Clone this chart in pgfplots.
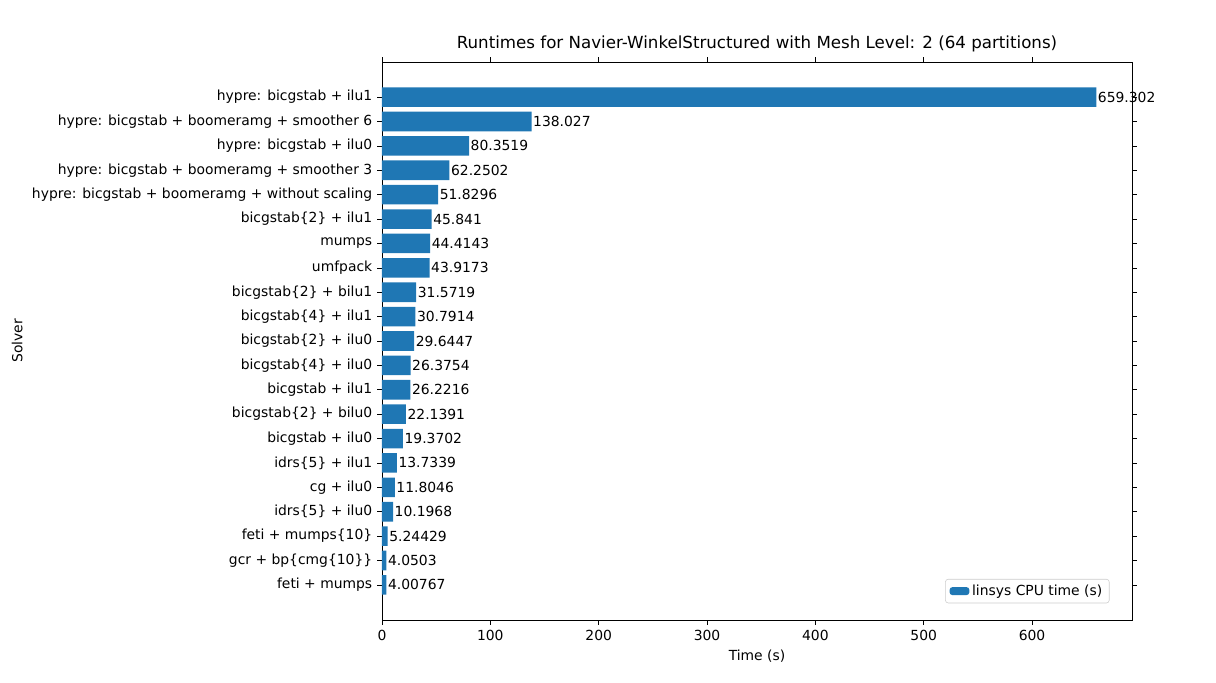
\documentclass[border=0pt]{standalone}
\usepackage{pgfplots}
\pgfplotsset{compat=1.18}
\usepackage{fontspec}
\setmainfont{DejaVu Sans}
\definecolor{mplblue}{HTML}{1F77B4}
\begin{document}
\begin{tikzpicture}
\path (-275.04pt,-45.36pt) rectangle (600.48pt,446.4pt);
\begin{axis}[
  at={(0,0)}, anchor=south west,
  scale only axis, width=540pt, height=401.76pt,
  xbar, bar width=14.1pt, bar shift=0pt,
  xmin=0, xmax=692.27, ymin=-1.44, ymax=21.44,
  ytick={0,...,20},
  yticklabels={feti + mumps, gcr + bp\{cmg\{10\}\}, feti + mumps\{10\}, idrs\{5\} + ilu0, cg + ilu0, idrs\{5\} + ilu1, bicgstab + ilu0, bicgstab\{2\} + bilu0, bicgstab + ilu1, bicgstab\{4\} + ilu0, bicgstab\{2\} + ilu0, bicgstab\{4\} + ilu1, bicgstab\{2\} + bilu1, umfpack, mumps, bicgstab\{2\} + ilu1, hypre: bicgstab + boomeramg + without scaling, hypre: bicgstab + boomeramg + smoother 3, hypre: bicgstab + ilu0, hypre: bicgstab + boomeramg + smoother 6, hypre: bicgstab + ilu1},
  xtick={0,100,...,600},
  /pgf/number format/assume math mode=true,
  tick label style={font=\fontsize{10}{12}\selectfont},
  tick align=outside, tick style={black, thin},
  major tick length=3.5pt,
  xlabel={Time (s)}, ylabel={Solver},
  label style={font=\fontsize{10}{12}\selectfont},
  title={Runtimes for Navier-WinkelStructured with Mesh Level: 2 (64 partitions)},
  title style={font=\fontsize{12}{14}\selectfont, yshift=-2pt},
  legend pos=south east,
  legend style={font=\fontsize{10}{12}\selectfont, draw=black!20, rounded corners=2pt},
  legend image code/.code={\fill[mplblue] (0cm,-0.1cm) rectangle (0.5cm,0.1cm);},
  nodes near coords, point meta=explicit symbolic,
  every node near coord/.append style={font=\fontsize{10}{12}\selectfont, anchor=west, inner sep=1pt},
]
\addplot[fill=mplblue, draw=none] table[x=x, y=y, meta=l] {
x y l
4.00767 0 4.00767
4.0503 1 4.0503
5.24429 2 5.24429
10.1968 3 10.1968
11.8046 4 11.8046
13.7339 5 13.7339
19.3702 6 19.3702
22.1391 7 22.1391
26.2216 8 26.2216
26.3754 9 26.3754
29.6447 10 29.6447
30.7914 11 30.7914
31.5719 12 31.5719
43.9173 13 43.9173
44.4143 14 44.4143
45.841 15 45.841
51.8296 16 51.8296
62.2502 17 62.2502
80.3519 18 80.3519
138.027 19 138.027
659.302 20 659.302
};
\addlegendentry{linsys CPU time (s)}
\end{axis}
\end{tikzpicture}
\end{document}
